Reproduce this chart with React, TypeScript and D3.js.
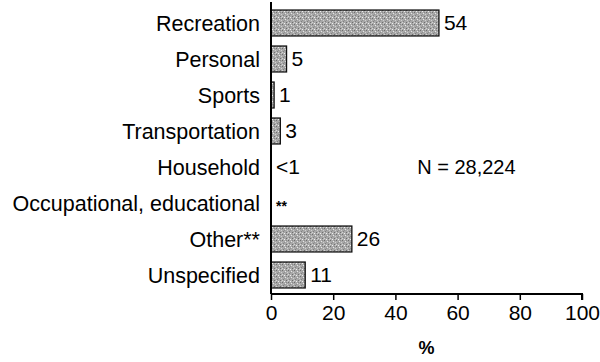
import { useEffect, useRef } from 'react';
import * as d3 from 'd3';

const categories = [
  'Recreation',
  'Personal',
  'Sports',
  'Transportation',
  'Household',
  'Occupational, educational',
  'Other**',
  'Unspecified',
];
const values = [54, 5, 1, 3, 0, 0, 26, 11];
const valueLabels = ['54', '5', '1', '3', '<1', '**', '26', '11'];
const xTicks = [0, 20, 40, 60, 80, 100];
const note = 'N = 28,224';

export default function App() {
  const svgRef = useRef<SVGSVGElement>(null);

  useEffect(() => {
    if (!svgRef.current) return;
    const svg = d3.select(svgRef.current);
    svg.selectAll('*').remove();

    const font = 'Liberation Sans, Arial, sans-serif';
    const x0 = 271;
    const x1 = 582;
    const yTop = 5;
    const yBottom = 293;

    const rows = categories.map((c, i) => ({ c, v: values[i], label: valueLabels[i] }));

    // stipple texture for bars
    const defs = svg.append('defs');
    const pat = defs.append('pattern')
      .attr('id', 'stipple')
      .attr('patternUnits', 'userSpaceOnUse')
      .attr('width', 6)
      .attr('height', 6);
    pat.append('rect').attr('width', 6).attr('height', 6).attr('fill', '#a8a8a8');
    const dots: [number, number, string][] = [
      [0, 0, '#6e6e6e'], [3, 1, '#e6e6e6'], [1, 3, '#808080'], [4, 4, '#6e6e6e'],
      [5, 2, '#d0d0d0'], [2, 5, '#f0f0f0'], [4, 0, '#8a8a8a'], [0, 4, '#d4d4d4'],
      [2, 2, '#909090'], [5, 5, '#c8c8c8'],
    ];
    dots.forEach(([dx, dy, c]) => {
      pat.append('rect').attr('x', dx).attr('y', dy).attr('width', 1).attr('height', 1).attr('fill', c);
    });

    const x = d3.scaleLinear().domain([0, 100]).range([x0, x1]);
    const y = d3.scaleBand<string>()
      .domain(categories)
      .range([yTop, yBottom])
      .paddingInner(0.28)
      .paddingOuter(0.14);

    const g = svg.append('g');

    // bars
    g.selectAll('rect.bar')
      .data(rows.filter((r) => r.v > 0))
      .join('rect')
      .attr('class', 'bar')
      .attr('x', x(0))
      .attr('y', (d) => y(d.c)!)
      .attr('width', (d) => x(d.v) - x(0))
      .attr('height', y.bandwidth())
      .attr('fill', 'url(#stipple)')
      .attr('stroke', '#111')
      .attr('stroke-width', 1.3);

    // category labels
    g.selectAll('text.cat')
      .data(rows)
      .join('text')
      .attr('class', 'cat')
      .attr('x', x0 - 11)
      .attr('y', (d) => y(d.c)! + y.bandwidth() / 2)
      .attr('dy', '0.35em')
      .attr('text-anchor', 'end')
      .attr('font-family', font)
      .attr('font-size', 21.5)
      .attr('fill', '#000')
      .text((d) => d.c);

    // value labels
    g.selectAll('text.val')
      .data(rows)
      .join('text')
      .attr('class', 'val')
      .attr('x', (d) => x(d.v) + 5)
      .attr('y', (d) => y(d.c)! + y.bandwidth() / 2)
      .attr('dy', (d) => (d.label === '**' ? '0.55em' : '0.35em'))
      .attr('font-family', font)
      .attr('font-size', (d) => (d.label === '**' ? 14 : 21))
      .attr('font-weight', (d) => (d.label === '**' ? 'bold' : 'normal'))
      .attr('fill', '#000')
      .text((d) => d.label);

    // y axis line
    g.append('line')
      .attr('x1', x0).attr('x2', x0)
      .attr('y1', 2).attr('y2', yBottom + 1)
      .attr('stroke', '#000').attr('stroke-width', 2);

    // x axis
    const xAxis = g.append('g')
      .attr('transform', `translate(0,${yBottom + 1})`)
      .call(d3.axisBottom(x).tickValues(xTicks).tickSize(6).tickPadding(5).tickFormat(d3.format('d')));
    xAxis.select('.domain').attr('stroke', '#000').attr('stroke-width', 2).attr('d', `M${x0},0H${x1}V6`);
    xAxis.selectAll('.tick line').attr('stroke', '#000').attr('stroke-width', 1.5);
    xAxis.selectAll('.tick text')
      .attr('font-family', font)
      .attr('font-size', 21)
      .attr('fill', '#000');

    g.append('text')
      .attr('x', (x0 + x1) / 2)
      .attr('y', 354)
      .attr('text-anchor', 'middle')
      .attr('font-family', font)
      .attr('font-size', 18)
      .attr('font-weight', 'bold')
      .text('%');

    g.append('text')
      .attr('x', x(47))
      .attr('y', y('Household')! + y.bandwidth() / 2)
      .attr('dy', '0.35em')
      .attr('font-family', font)
      .attr('font-size', 20)
      .text(note);
  }, []);

  return (
    <div style={{ position: 'absolute', left: 0, top: 0, background: '#fff' }}>
      <svg ref={svgRef} width={600} height={362} style={{ display: 'block' }} />
    </div>
  );
}
